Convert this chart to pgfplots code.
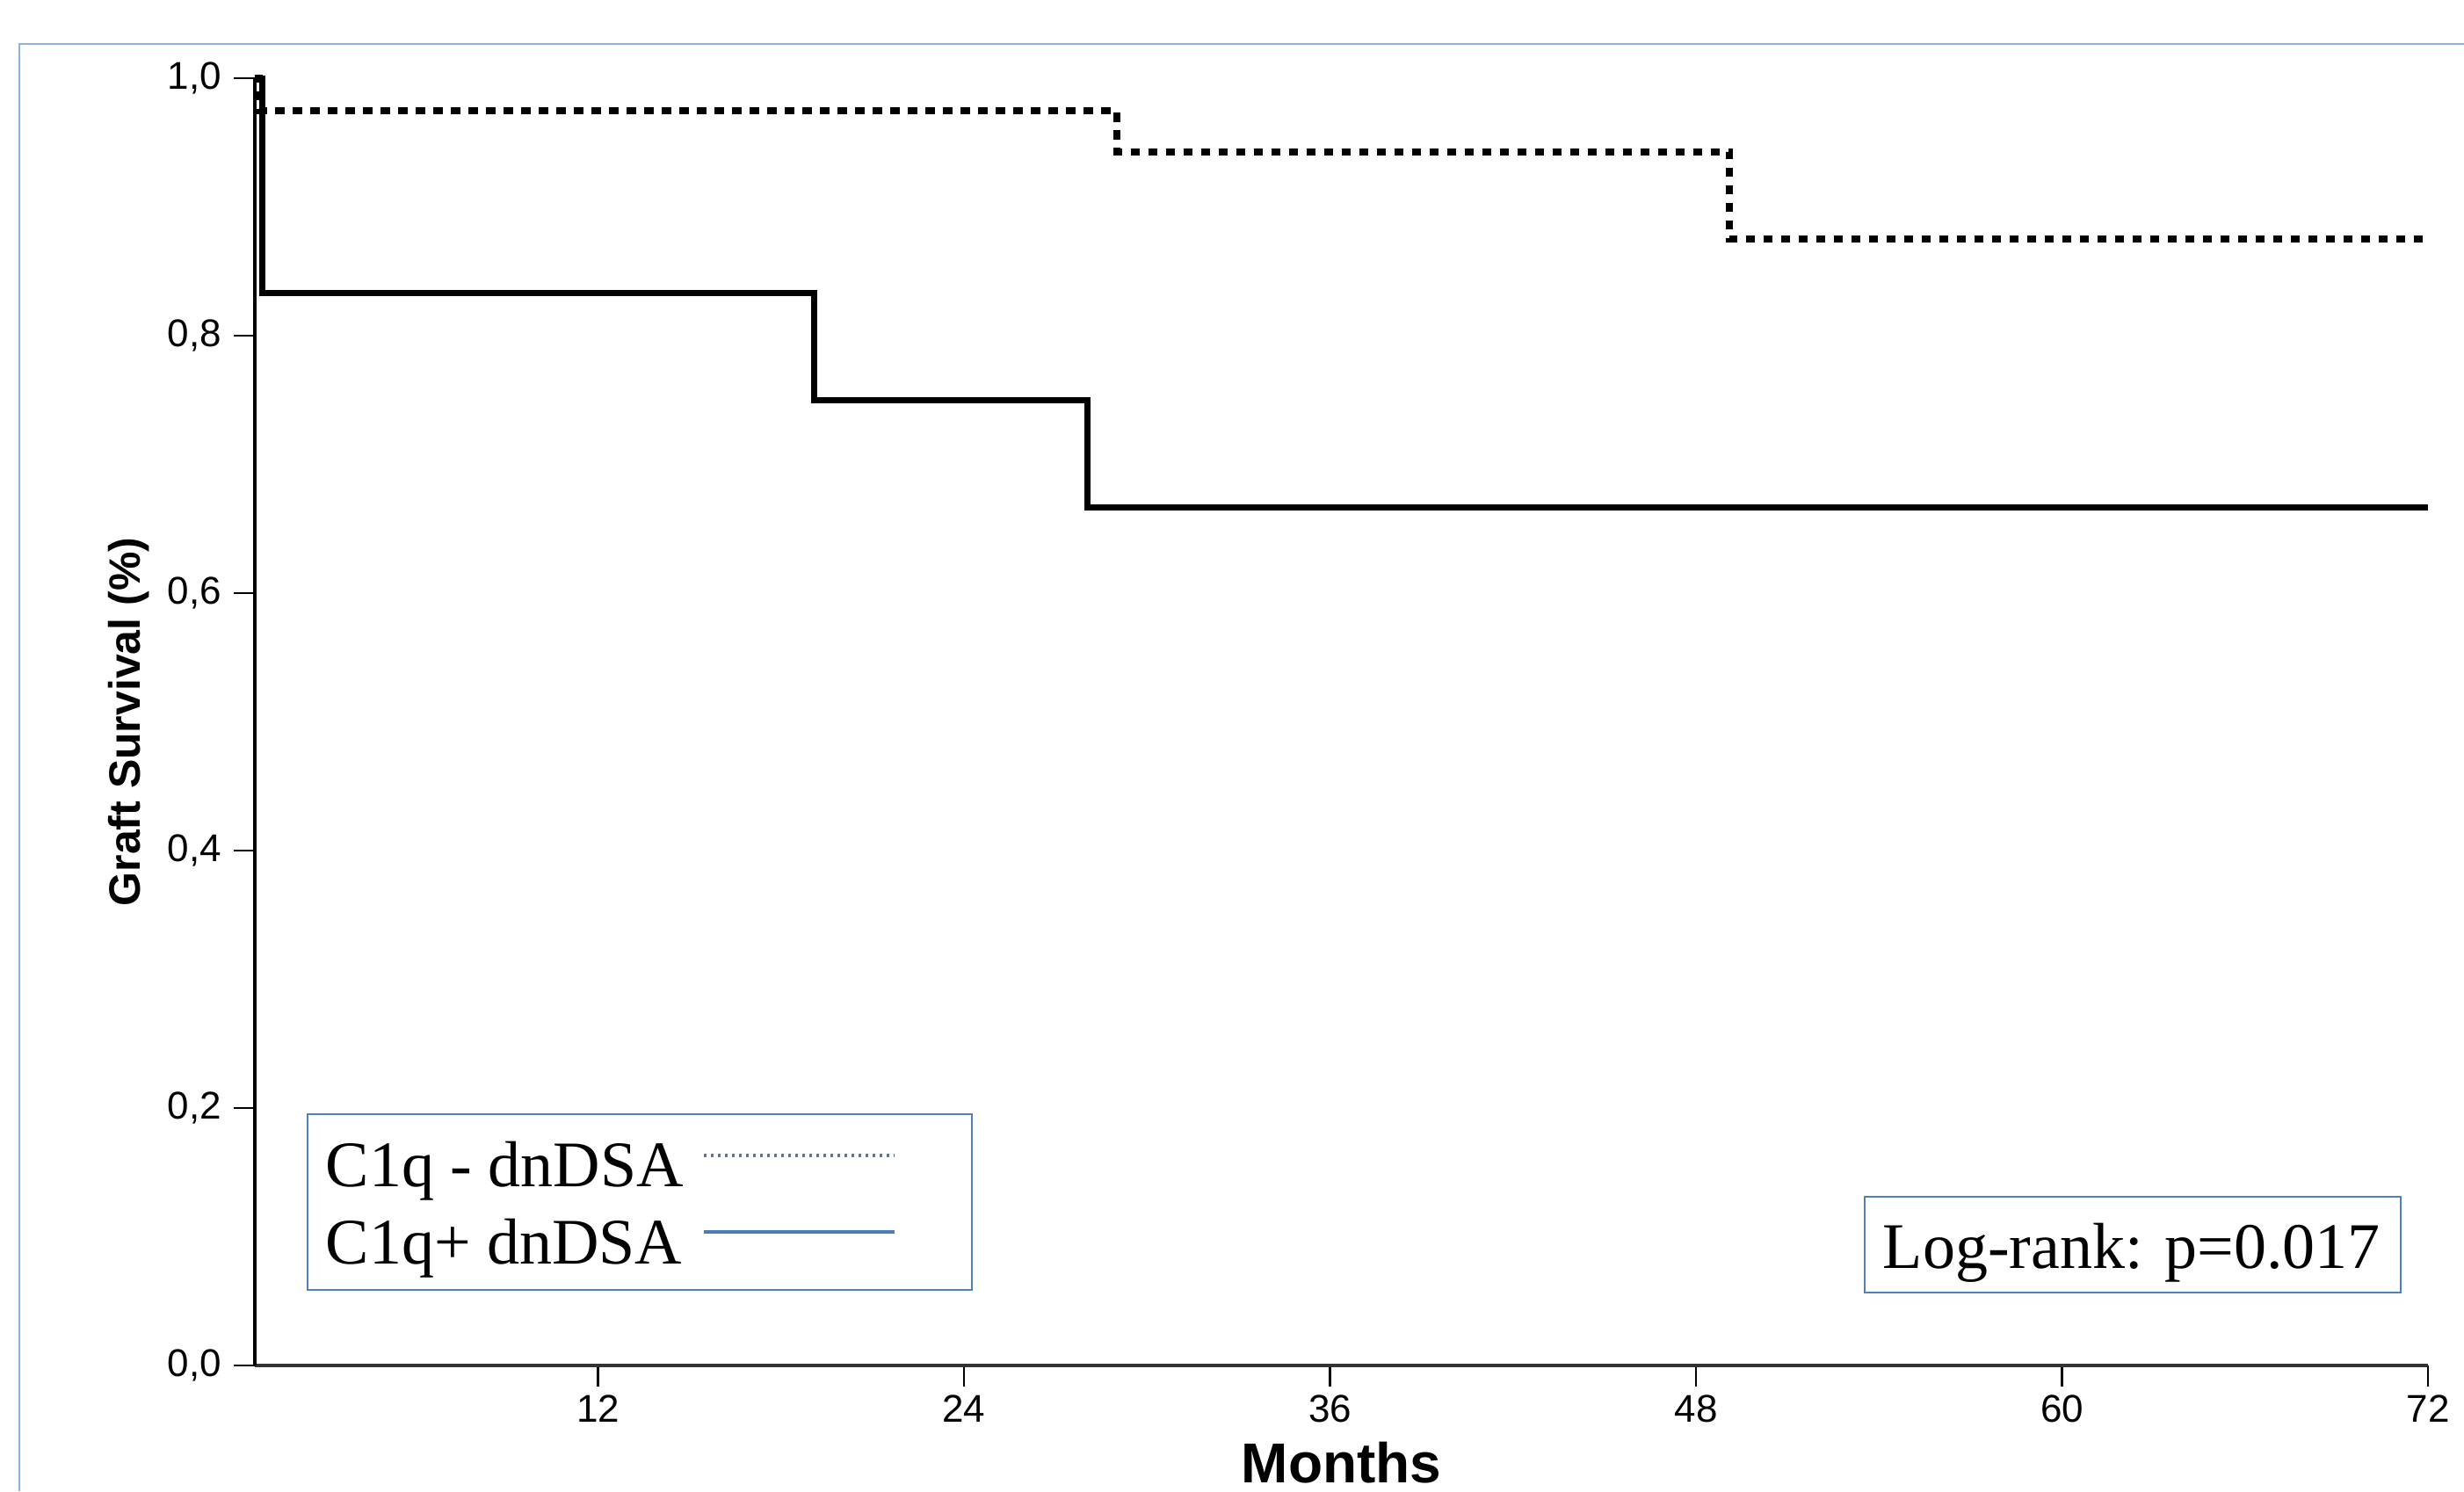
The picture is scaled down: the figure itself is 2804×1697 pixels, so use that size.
\documentclass[border=0pt]{standalone}
\usepackage{fontspec}
\setmainfont{Liberation Serif}
\newfontfamily\arialfont{Liberation Sans}
\usepackage{pgfplots}
\pgfplotsset{compat=1.18}
\definecolor{framebl}{HTML}{8DB4E2}
\definecolor{boxbl}{HTML}{4F81BD}
\definecolor{legbl}{HTML}{4A7EBB}
\begin{document}
\begin{tikzpicture}[x=0.25pt,y=0.25pt]
\useasboundingbox (0,0) rectangle (2804,1697);
% outer frame, cut off by the page on the right and at the bottom
\draw[framebl, line width=0.5pt] (22,0) -- (22,1647) -- (2804,1647);
\begin{axis}[
  at={(72.5pt,35.75pt)}, anchor=south west,
  width=618.25pt, height=366.25pt, scale only axis,
  xmin=0.75, xmax=72, ymin=0, ymax=1,
  clip=false,
  axis lines=left,
  axis line style={-},
  x axis line style={line width=1.1pt, draw=black!80},
  y axis line style={line width=0.8pt},
  tick align=outside, major tick length=6pt,
  tick style={line width=0.7pt, black},
  xtick={12,24,36,48,60,72},
  ytick={0,0.2,0.4,0.6,0.8,1},
  /pgf/number format/assume math mode=true,
  yticklabel style={/pgf/number format/.cd, fixed, fixed zerofill, precision=1, use comma},
  tick label style={font=\fontsize{11}{13}\arialfont},
  xticklabel style={yshift=1pt},
  xlabel={Months}, ylabel={Graft Survival (\%)},
  xlabel style={at={(axis description cs:0.5,-0.0758)}, anchor=center,
    font=\fontsize{16}{18}\arialfont\bfseries},
  ylabel style={at={(axis description cs:-0.0578,0.5)}, anchor=center,
    font=\fontsize{12.5}{14}\arialfont\bfseries},
]
% C1q- dnDSA (dotted)
\addplot[const plot, black, line width=2pt, dash pattern=on 2.6pt off 2.4pt]
  coordinates {(0.75,1) (0.9,0.975) (29.0,0.943) (49.1,0.875) (72,0.875)};
% C1q+ dnDSA (solid)
\addplot[const plot, black, line width=1.75pt]
  coordinates {(0.75,1) (1.0,0.8333) (19.1,0.75) (28.05,0.6667) (72,0.6667)};
\end{axis}
% legend box
\draw[boxbl, line width=0.6pt, fill=white] (350,229) rectangle (1106,429);
\node[anchor=base west, inner sep=0, font=\fontsize{18.5}{20}\selectfont] at (370,347) {C1q - dnDSA};
\node[anchor=base west, inner sep=0, font=\fontsize{18.5}{20}\selectfont] at (370,259) {C1q+ dnDSA};
\draw[legbl, line width=0.8pt, dash pattern=on 0.8pt off 1.2pt] (801,382) -- (1018,382);
\draw[legbl, line width=1pt] (801,295) -- (1018,295);
% log-rank box
\draw[boxbl, line width=0.6pt, fill=white] (2122,226) rectangle (2732,335);
\node[anchor=base west, inner sep=0, font=\fontsize{18.5}{20}\selectfont] at (2142,254) {Log-rank: p=0.017};
\end{tikzpicture}
\end{document}
